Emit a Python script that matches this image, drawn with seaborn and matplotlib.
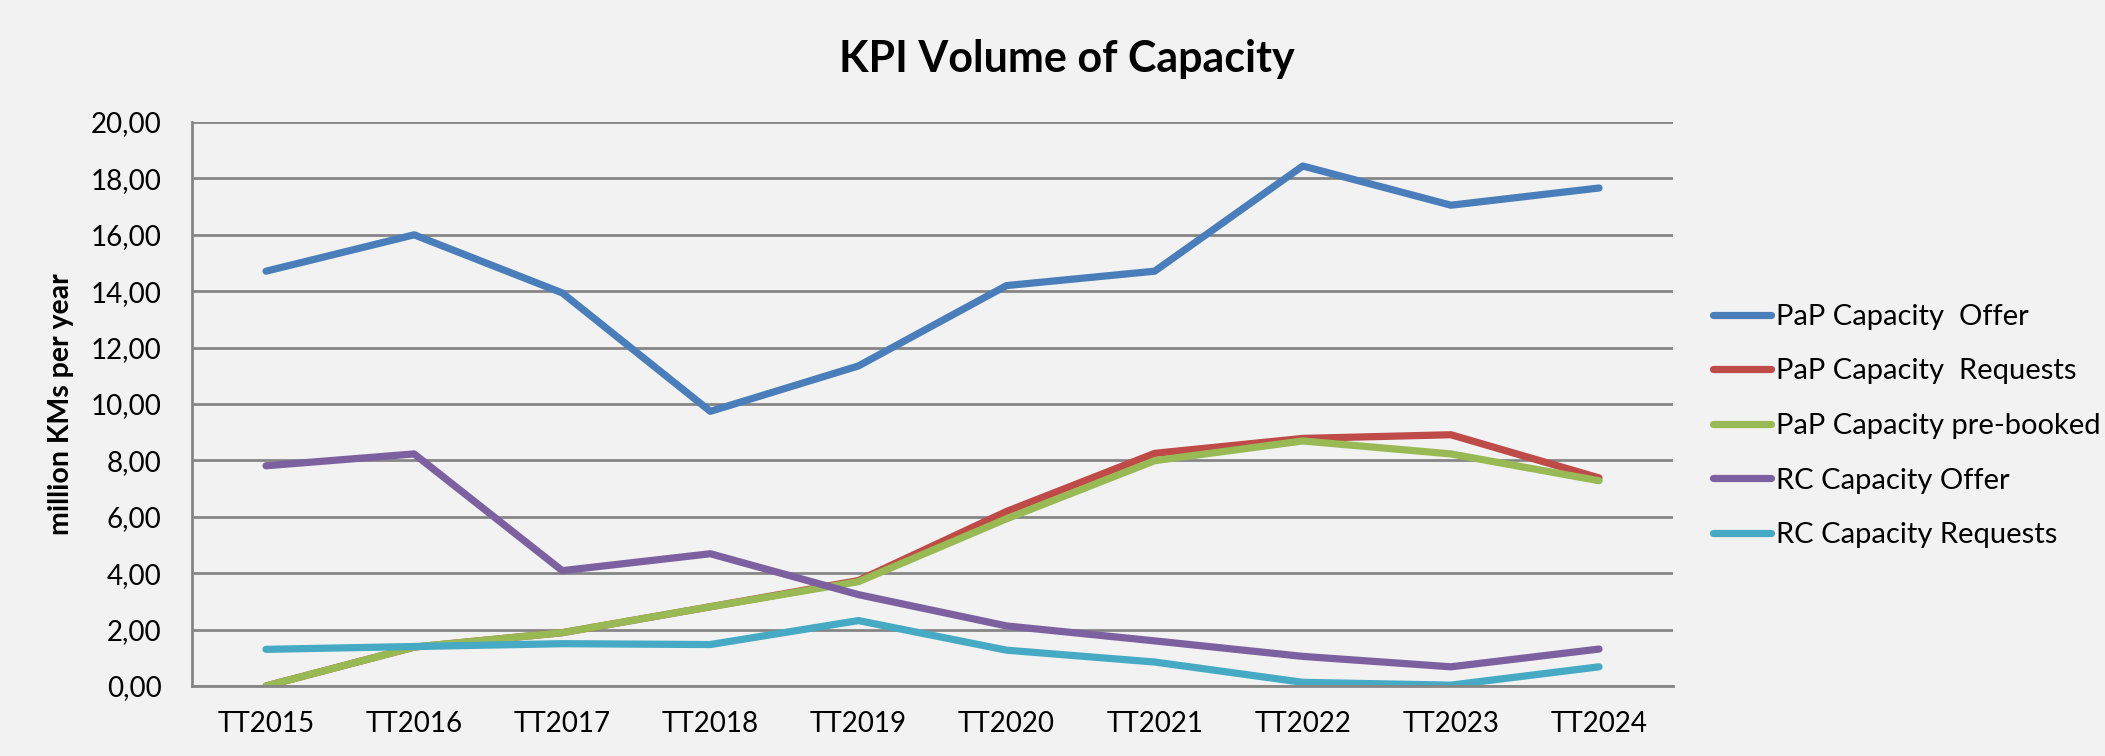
import pandas as pd
import matplotlib
matplotlib.use("Agg")
import matplotlib.pyplot as plt
import seaborn as sns
from matplotlib.ticker import FuncFormatter

# Values (million KMs per year)
years = ["TT2015", "TT2016", "TT2017", "TT2018", "TT2019",
         "TT2020", "TT2021", "TT2022", "TT2023", "TT2024"]
pap_offer = [14.71, 16.00, 13.94, 9.74, 11.35, 14.20, 14.71, 18.44, 17.05, 17.66]
pap_requests = [0.00, 1.38, 1.89, 2.81, 3.74, 6.19, 8.25, 8.78, 8.91, 7.38]
pap_prebooked = [0.00, 1.38, 1.89, 2.81, 3.70, 5.93, 7.99, 8.69, 8.23, 7.28]
rc_offer = [7.81, 8.23, 4.09, 4.69, 3.24, 2.13, 1.60, 1.05, 0.68, 1.31]
rc_requests = [1.30, 1.40, 1.50, 1.47, 2.32, 1.27, 0.85, 0.13, 0.03, 0.68]

series_names = ["PaP Capacity  Offer", "PaP Capacity  Requests",
                "PaP Capacity pre-booked", "RC Capacity Offer",
                "RC Capacity Requests"]
colors = ["#4A7EBB", "#BE4B48", "#98B954", "#7D60A0", "#46AAC5"]

frames = []
for name, vals in zip(series_names,
                      [pap_offer, pap_requests, pap_prebooked, rc_offer, rc_requests]):
    frames.append(pd.DataFrame({"year": years, "value": vals, "series": name}))
df = pd.concat(frames, ignore_index=True)

sns.set_style("white")
plt.rcParams["font.family"] = ["Lato", "DejaVu Sans"]
plt.rcParams["text.color"] = "black"
plt.rcParams["axes.labelcolor"] = "black"

fig = plt.figure(figsize=(21.05, 7.56), dpi=100, facecolor="#f2f2f2")
ax = fig.add_axes([0.0912, 0.0926, 0.7036, 0.746])
ax.set_facecolor("#f2f2f2")

sns.lineplot(data=df, x="year", y="value", hue="series", hue_order=series_names,
             palette=colors, linewidth=5.2, sort=False, ax=ax)
for line in ax.get_lines():
    line.set_solid_capstyle("round")

ax.set_ylim(0, 20)
ax.set_xlim(-0.5, 9.5)
ax.set_yticks(range(0, 21, 2))
ax.yaxis.set_major_formatter(FuncFormatter(lambda v, p: f"{v:.2f}".replace(".", ",")))
ax.grid(axis="y", color="#868686", linewidth=2)
ax.set_axisbelow(True)
for side in ["top", "right"]:
    ax.spines[side].set_visible(False)
for side in ["left", "bottom"]:
    ax.spines[side].set_color("#868686")
    ax.spines[side].set_linewidth(2)
ax.tick_params(axis="both", length=0, labelsize=20, labelcolor="black")
ax.tick_params(axis="y", pad=22)
ax.tick_params(axis="x", pad=18)

ax.set_xlabel("")
ax.set_ylabel("million KMs per year", fontsize=20.5, fontweight="bold",
              labelpad=12, color="black")
fig.text(0.507, 0.922, "KPI Volume of Capacity", fontsize=31, fontweight="bold",
         ha="center", va="center", color="black")

handles, labels = ax.get_legend_handles_labels()
leg = ax.legend(handles, labels, loc="center left", bbox_to_anchor=(0.8138, 0.4365),
                bbox_transform=fig.transFigure, borderpad=0, borderaxespad=0,
                frameon=False, fontsize=21, handlelength=2.0, handletextpad=0.15,
                labelspacing=0.98)
for t in leg.get_texts():
    t.set_color("black")

fig.savefig("out.png", dpi=100, facecolor=fig.get_facecolor())
